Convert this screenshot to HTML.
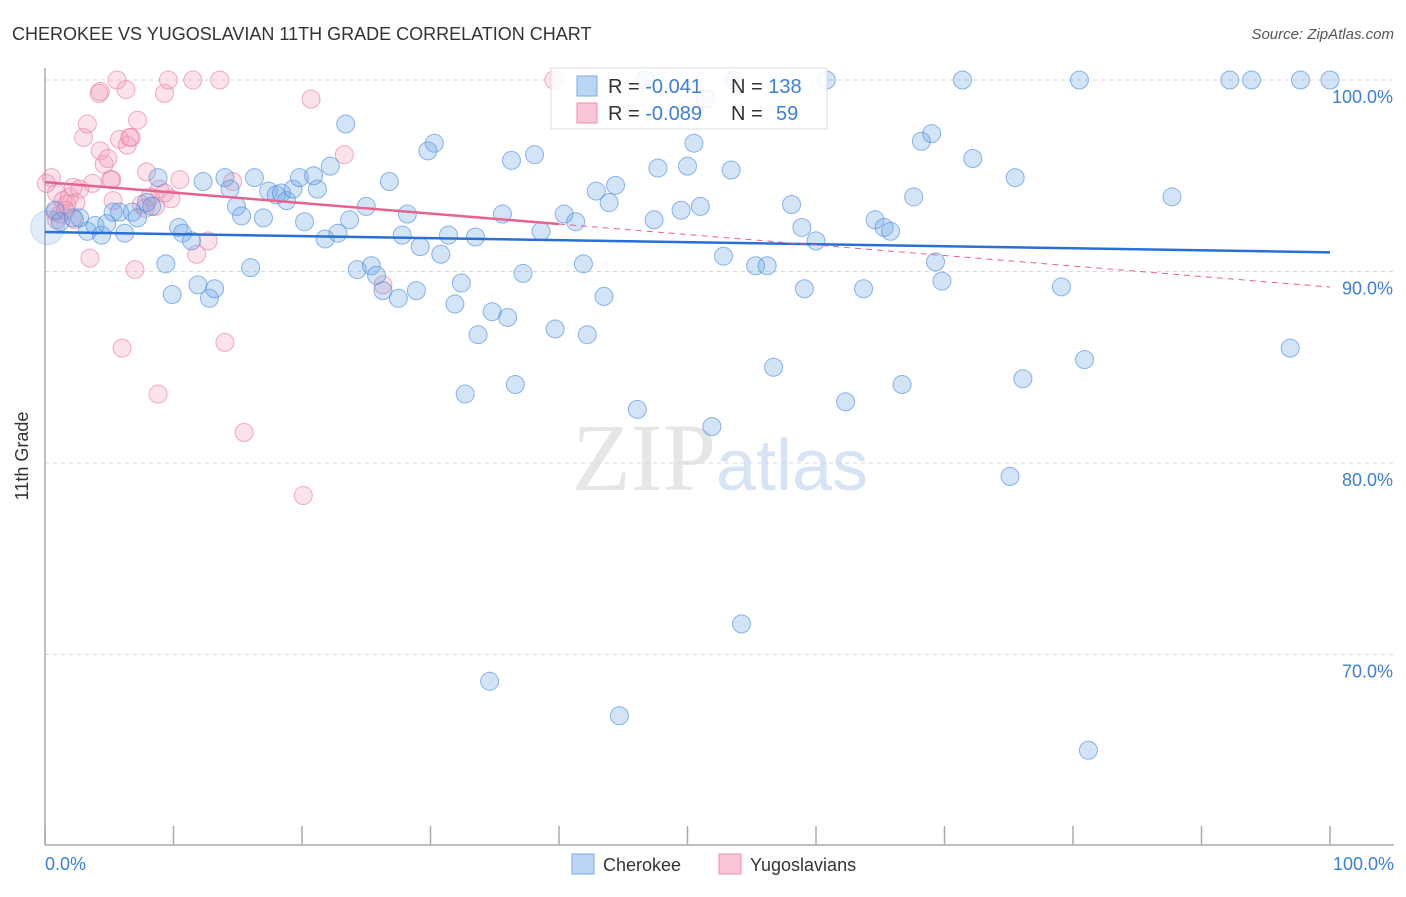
<!DOCTYPE html>
<html><head><meta charset="utf-8"><style>
body{margin:0;background:#fff;font-family:"Liberation Sans",sans-serif;}
svg text{font-family:"Liberation Sans",sans-serif;}
</style></head><body>
<svg id="chart" width="1406" height="892" viewBox="0 0 1406 892">
<text x="12" y="40" font-size="18" fill="#333">CHEROKEE VS YUGOSLAVIAN 11TH GRADE CORRELATION CHART</text>
<text x="1394" y="39" font-size="15" fill="#555" font-style="italic" text-anchor="end">Source: ZipAtlas.com</text>
<text x="720" y="490" font-size="96" fill="#e6e6e6" text-anchor="middle"><tspan font-family="Liberation Serif">ZIP</tspan><tspan fill="#d6e4f5" font-size="72">atlas</tspan></text>
<g id="grid"></g>
<g id="axes"></g>
<g id="pts"></g>
<g id="trend"></g>
<text x="28" y="456" font-size="18" fill="#333" text-anchor="middle" transform="rotate(-90 28 456)">11th Grade</text>
<text x="45" y="870" font-size="18" fill="#3d7fd9">0.0%</text>
<text x="1394" y="870" font-size="18" fill="#3d7fd9" text-anchor="end">100.0%</text>
<g>
<rect x="551" y="68" width="276" height="61" fill="#fff" fill-opacity="0.85" stroke="#ddd"/>
<rect x="577" y="76" width="20" height="20" fill="#bcd5f5" stroke="#7aa9e6"/>
<rect x="577" y="103" width="20" height="20" fill="#f8c6d6" stroke="#eb8fb0"/>
<text x="608" y="93" font-size="20" fill="#333">R = <tspan fill="#3d7fd9">-0.041</tspan><tspan x="731">N = </tspan><tspan fill="#3d7fd9">138</tspan></text>
<text x="608" y="120" font-size="20" fill="#333">R = <tspan fill="#3d7fd9">-0.089</tspan><tspan x="731">N = </tspan><tspan fill="#3d7fd9" x="776">59</tspan></text>
</g>
<g>
<rect x="572" y="854" width="22" height="20" fill="#bcd5f5" stroke="#7aa9e6"/>
<text x="603" y="871" font-size="18" fill="#333">Cherokee</text>
<rect x="719" y="854" width="22" height="20" fill="#f8c6d6" stroke="#eb8fb0"/>
<text x="750" y="871" font-size="18" fill="#333">Yugoslavians</text>
</g>
</svg>
<script>
const yTicks=[100,90,80,70];
const yTickLabels=["100.0%","90.0%","80.0%","70.0%"];
const xTicks=[0,10,20,30,40,50,60,70,80,90,100];
const blueX=[0.2,0.8,1.2,2.2,2.7,3.3,3.9,4.4,4.8,5.3,5.8,6.2,6.8,7.2,7.9,8.3,8.8,9.4,9.9,10.4,10.7,11.4,11.9,12.3,12.8,13.2,14.0,14.4,14.9,15.3,16.0,16.3,17.0,17.4,18.0,18.4,18.8,19.3,19.8,20.2,20.9,21.2,21.8,22.2,22.8,23.4,23.7,24.3,25.0,25.4,25.8,26.3,26.8,27.5,27.8,28.2,28.9,29.2,29.8,30.3,30.8,31.4,31.9,32.4,33.5,33.7,32.7,34.8,35.6,36.0,36.3,36.6,37.2,38.1,38.6,39.7,40.4,41.3,41.9,42.2,42.9,43.5,43.9,44.4,44.7,46.1,46.7,47.4,47.7,49.5,50.0,50.5,51.0,51.9,52.8,53.4,53.6,54.2,55.3,56.2,56.7,58.1,58.9,59.1,60.0,60.8,62.3,63.7,64.6,65.3,65.8,66.7,67.6,68.2,69.0,69.3,69.8,71.4,72.2,75.1,75.5,76.1,79.1,80.5,80.9,81.2,87.7,92.2,93.9,96.9,97.7,100,34.6,51.4];
const blueY=[92.3,93.2,92.6,92.8,92.8,92.1,92.4,91.9,92.5,93.1,93.1,92.0,93.1,92.8,93.6,93.4,94.9,90.4,88.8,92.3,92.0,91.6,89.3,94.7,88.6,89.1,94.9,94.3,93.4,92.9,90.2,94.9,92.8,94.2,94.0,94.1,93.7,94.3,94.9,92.6,95.0,94.3,91.7,95.5,92.0,97.7,92.7,90.1,93.4,90.3,89.8,89.0,94.7,88.6,91.9,93.0,89.0,91.3,96.3,96.7,90.9,91.9,88.3,89.4,91.8,86.7,83.6,87.9,93.0,87.6,95.8,84.1,89.9,96.1,92.1,87.0,93.0,92.6,90.4,86.7,94.2,88.7,93.6,94.5,66.8,82.8,100,92.7,95.4,93.2,95.5,96.7,93.4,81.9,90.8,95.3,100,71.6,90.3,90.3,85.0,93.5,92.3,89.1,91.6,100,83.2,89.1,92.7,92.3,92.1,84.1,93.9,96.8,97.2,90.5,89.5,100,95.9,79.3,94.9,84.4,89.2,100,85.4,65.0,93.9,100,100,86.0,100,100,68.6,99.0];
const pinkX=[0.5,0.9,1.4,1.9,2.4,3.0,3.3,3.5,3.7,4.2,4.3,4.6,4.9,5.2,5.6,5.8,6.0,6.3,6.4,6.7,7.0,7.2,7.5,7.9,8.2,8.6,8.8,8.9,9.3,9.6,9.8,10.5,11.5,11.8,12.7,13.6,14.0,14.6,15.5,20.1,20.7,23.3,26.3,39.6,1.2,1.7,2.2,2.7,4.3,0.8,2.3,5.3,6.6,9.3,7.8,0.1,1.6,0.9,5.1];
const pinkY=[94.9,94.1,93.7,93.9,93.6,97.0,97.7,90.7,94.6,99.3,96.3,95.6,95.9,94.8,100,96.9,86.0,99.5,96.6,97.0,90.1,97.9,93.5,95.2,93.9,93.4,83.6,94.3,99.3,100,93.8,94.8,100,90.9,91.6,100,86.3,94.7,81.6,78.3,99.0,96.1,89.3,100,93.0,93.5,94.4,94.3,99.4,93.1,92.7,93.7,97.0,94.1,93.3,94.6,93.2,92.7,94.8];
const blueTrend=[92.06,91.0];
const pinkTrend=[94.67,89.19];
const pinkSolidEnd=40;
const NS="http://www.w3.org/2000/svg";
const X=v=>45+v*12.85;
const Y=v=>80+(100-v)*19.15;
function mk(tag,attrs,parent){const e=document.createElementNS(NS,tag);for(const k in attrs)e.setAttribute(k,attrs[k]);parent.appendChild(e);return e;}
const grid=document.getElementById('grid'),axes=document.getElementById('axes'),pts=document.getElementById('pts'),trend=document.getElementById('trend'),svg=document.getElementById('chart');
yTicks.forEach((t,i)=>{
 const l=mk('line',{x1:45,x2:1394,y1:Y(t),y2:Y(t),stroke:'#d8d8d8','stroke-dasharray':'4,4'},grid);
 
 
 const tx=mk('text',{x:1393,y:Y(t)+23,'font-size':18,fill:'#3d7fd9','text-anchor':'end'},svg);
 tx.textContent=yTickLabels[i];
 
 
});
let a=mk('line',{x1:45,x2:45,y1:68,y2:845,stroke:'#aaa','stroke-width':1.5},axes);


a=mk('line',{x1:45,x2:1394,y1:845,y2:845,stroke:'#aaa','stroke-width':1.5},axes);


xTicks.forEach(t=>{
 const l=mk('line',{x1:X(t),x2:X(t),y1:826,y2:845,stroke:'#aaa','stroke-width':1.5},axes);
 
 
});
pinkX.forEach((x,i)=>{
 const c=mk('circle',{cx:X(x),cy:Y(pinkY[i]),r:9,fill:'rgba(242,160,188,0.3)',stroke:'rgba(232,120,160,0.6)','stroke-width':1},pts);
 
 
});
blueX.forEach((x,i)=>{
 const c=mk('circle',{cx:X(x),cy:Y(blueY[i]),r:i===0?17:9,fill:i===0?'rgba(100,160,230,0.2)':'rgba(110,165,230,0.3)',stroke:i===0?'rgba(70,135,220,0.25)':'rgba(70,135,220,0.6)','stroke-width':1},pts);
 
 
});
let t=mk('line',{x1:X(0),y1:Y(blueTrend[0]),x2:X(100),y2:Y(blueTrend[1]),stroke:'#2a6fd6','stroke-width':2.5},trend);


const pm=pinkTrend[0]+(pinkTrend[1]-pinkTrend[0])*pinkSolidEnd/100;
t=mk('line',{x1:X(0),y1:Y(pinkTrend[0]),x2:X(pinkSolidEnd),y2:Y(pm),stroke:'#e8628e','stroke-width':2.5},trend);


t=mk('line',{x1:X(pinkSolidEnd),y1:Y(pm),x2:X(100),y2:Y(pinkTrend[1]),stroke:'#e8628e','stroke-width':1,'stroke-dasharray':'6,5'},trend);


</script>
</body></html>
